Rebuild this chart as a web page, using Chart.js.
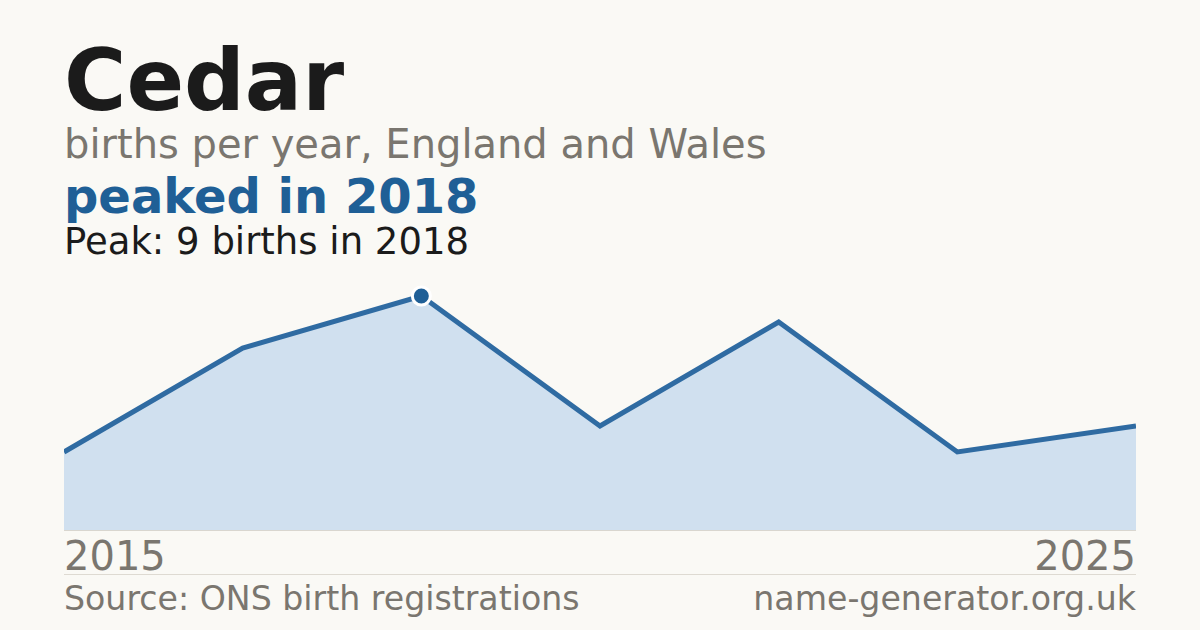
<!DOCTYPE html>
<html>
<head>
<meta charset="utf-8">
<script src="https://cdn.jsdelivr.net/npm/chart.js@4/dist/chart.umd.min.js"></script>
<style>
  html, body { margin: 0; padding: 0; }
  body { width: 1200px; height: 630px; background: #faf9f5; position: relative; overflow: hidden; font-family: "DejaVu Sans", sans-serif; }
  .t { position: absolute; left: 64px; white-space: nowrap; line-height: 1; }
  #title { font-size: 85px; font-weight: bold; color: #1b1b1b; top: 38px; }
  #sub { font-size: 40px; color: #7a766f; top: 124px; }
  #head { font-size: 48px; font-weight: bold; color: #1f5f96; top: 172px; }
  #peak { font-size: 37px; color: #1b1b1b; top: 223px; }
  #chartBox { position: absolute; left: 64px; top: 270px; width: 1072px; height: 260px; }
  #base { position: absolute; left: 64px; top: 530px; width: 1072px; height: 1px; background: #d9d6cf; }
  .xl { position: absolute; top: 536px; font-size: 40px; color: #7a766f; line-height: 1; }
  #sep { position: absolute; left: 64px; top: 574px; width: 1072px; height: 1px; background: #dedad2; }
  .ft { position: absolute; top: 582px; font-size: 33.2px; color: #7a766f; line-height: 1; white-space: nowrap; }
</style>
</head>
<body>
<div class="t" id="title"></div>
<div class="t" id="sub"></div>
<div class="t" id="head"></div>
<div class="t" id="peak"></div>
<div id="chartBox"><canvas id="c" width="1072" height="260"></canvas></div>
<div id="base"></div>
<div class="xl" id="xl0" style="left:64px"></div>
<div class="xl" id="xl1" style="right:64px"></div>
<div id="sep"></div>
<div class="ft" id="src" style="left:64px"></div>
<div class="ft" id="site" style="right:64px"></div>
<script>
const name = "Cedar";
const subtitle = "births per year, England and Wales";
const years = ["2015", "2016", "2018", "2019", "2021", "2023", "2025"];
const births = [3, 7, 9, 4, 8, 3, 4];
const tickLabels = ["2015", "2025"];
const source = "Source: ONS birth registrations";
const site = "name-generator.org.uk";

const peakIdx = births.indexOf(Math.max(...births));
document.getElementById('title').textContent = name;
document.getElementById('sub').textContent = subtitle;
document.getElementById('head').textContent = "peaked in " + years[peakIdx];
document.getElementById('peak').textContent = "Peak: " + births[peakIdx] + " births in " + years[peakIdx];
document.getElementById('xl0').textContent = tickLabels[0];
document.getElementById('xl1').textContent = tickLabels[1];
document.getElementById('src').textContent = source;
document.getElementById('site').textContent = site;

new Chart(document.getElementById('c'), {
  type: 'line',
  data: {
    labels: years,
    datasets: [{
      data: births,
      borderColor: '#2f6ba2',
      borderWidth: 5,
      backgroundColor: '#d0e0ef',
      fill: 'origin',
      tension: 0,
      clip: 0,
      pointRadius: births.map((v, i) => i === peakIdx ? 9 : 0),
      pointHoverRadius: 0,
      pointBackgroundColor: '#1f5f96',
      pointBorderColor: '#ffffff',
      pointBorderWidth: 3
    }]
  },
  options: {
    responsive: false,
    animation: false,
    devicePixelRatio: 1,
    layout: { padding: 0 },
    plugins: { legend: { display: false }, tooltip: { enabled: false } },
    scales: {
      x: { display: false, offset: false },
      y: { display: false, min: 0, max: 10 }
    }
  }
});
</script>
</body>
</html>
